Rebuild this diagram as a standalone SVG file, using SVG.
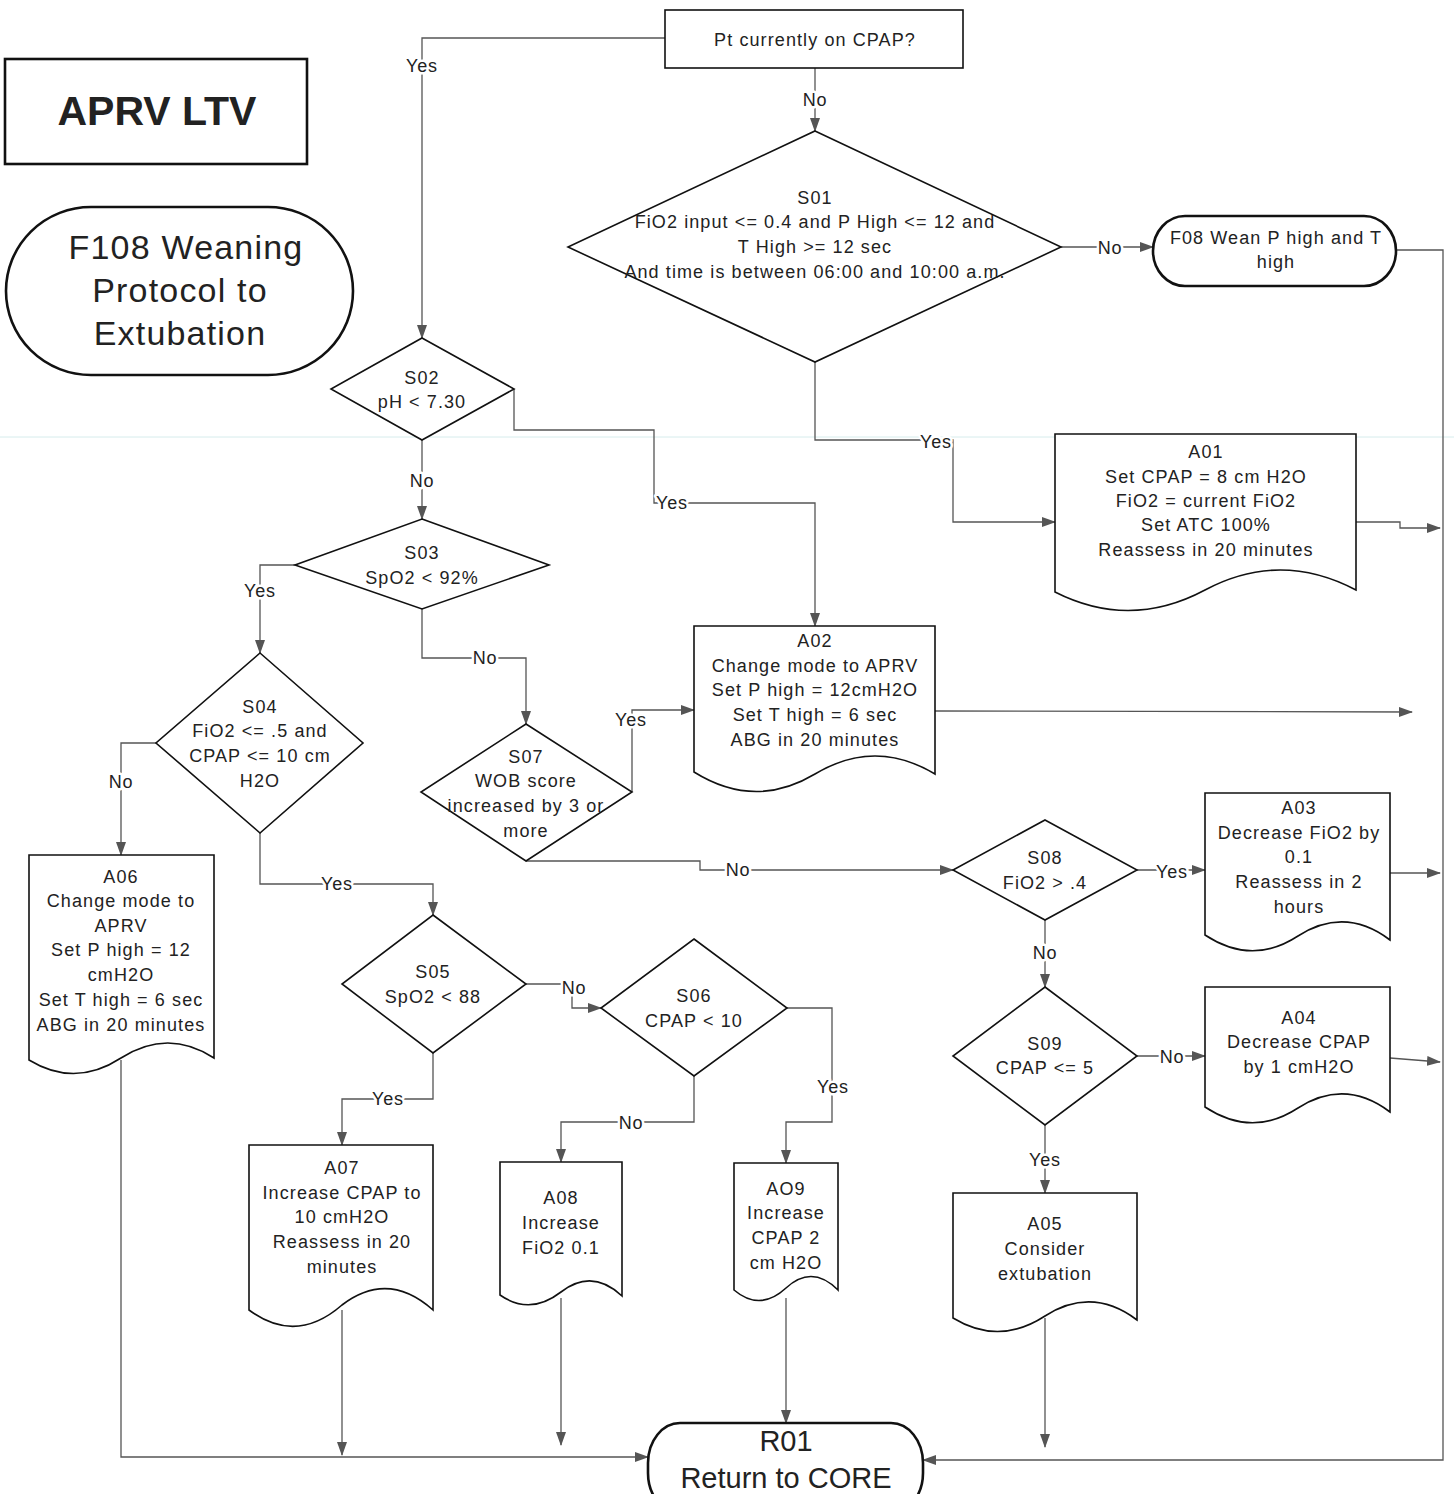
<svg xmlns="http://www.w3.org/2000/svg" width="1454" height="1494" viewBox="0 0 1454 1494">
<style>
.shape{fill:#fff;stroke:#111;stroke-width:1.6}
.thick{fill:#fff;stroke:#111;stroke-width:2.6}
.t{font-family:"Liberation Sans",Arial,sans-serif;font-size:18px;fill:#222;text-anchor:middle;letter-spacing:1.1px}
.big{font-family:"Liberation Sans",Arial,sans-serif;font-size:34px;fill:#222;text-anchor:middle;letter-spacing:1.2px}
.title{font-family:"Liberation Sans",Arial,sans-serif;font-size:41px;font-weight:bold;fill:#222;text-anchor:middle}
.r01{font-family:"Liberation Sans Narrow","Liberation Sans",Arial,sans-serif;font-size:29px;fill:#222;text-anchor:middle}
.c{fill:none;stroke:#555;stroke-width:1.3}
.lbl{font-family:"Liberation Sans",Arial,sans-serif;font-size:18px;fill:#222;text-anchor:middle;letter-spacing:0.8px;stroke:#fff;stroke-width:5px;paint-order:stroke;stroke-linejoin:round}
</style>
<defs>
<marker id="arr" markerWidth="14" markerHeight="10" refX="13" refY="5" orient="auto" markerUnits="userSpaceOnUse">
<path d="M0,0 L14,5 L0,10 z" fill="#555"/>
</marker>
</defs>
<rect width="1454" height="1494" fill="#fff"/>
<line x1="0" y1="437" x2="1454" y2="437" stroke="#d6ecec" stroke-width="1"/>

<g id="connectors">
<polyline class="c" points="665,38 422,38 422,338" marker-end="url(#arr)"/>
<polyline class="c" points="815,68 815,131" marker-end="url(#arr)"/>
<polyline class="c" points="1061,247 1153,247" marker-end="url(#arr)"/>
<polyline class="c" points="1396,250 1443,250 1443,1460 923,1460" marker-end="url(#arr)"/>
<polyline class="c" points="815,362 815,440 953,440 953,522 1055,522" marker-end="url(#arr)"/>
<polyline class="c" points="1356,522 1400,522 1400,528 1440,528" marker-end="url(#arr)"/>
<polyline class="c" points="514,389 514,430 654,430 654,503 815,503 815,626" marker-end="url(#arr)"/>
<polyline class="c" points="422,440 422,519" marker-end="url(#arr)"/>
<polyline class="c" points="295,565 260,565 260,653" marker-end="url(#arr)"/>
<polyline class="c" points="422,609 422,658 526,658 526,724" marker-end="url(#arr)"/>
<polyline class="c" points="156,743 121,743 121,855" marker-end="url(#arr)"/>
<polyline class="c" points="260,833 260,884 433,884 433,915" marker-end="url(#arr)"/>
<polyline class="c" points="632,792 632,710 694,710" marker-end="url(#arr)"/>
<polyline class="c" points="935,711 1412,712" marker-end="url(#arr)"/>
<polyline class="c" points="526,861 700,861 700,870 953,870" marker-end="url(#arr)"/>
<polyline class="c" points="1137,870 1205,870" marker-end="url(#arr)"/>
<polyline class="c" points="1390,873 1440,873" marker-end="url(#arr)"/>
<polyline class="c" points="1045,920 1045,987" marker-end="url(#arr)"/>
<polyline class="c" points="1137,1056 1205,1056" marker-end="url(#arr)"/>
<polyline class="c" points="1390,1058 1440,1062" marker-end="url(#arr)"/>
<polyline class="c" points="1045,1125 1045,1193" marker-end="url(#arr)"/>
<polyline class="c" points="1045,1318 1045,1447" marker-end="url(#arr)"/>
<polyline class="c" points="526,984 572,984 572,1008 601,1008" marker-end="url(#arr)"/>
<polyline class="c" points="787,1008 832,1008 832,1122 786,1122 786,1163" marker-end="url(#arr)"/>
<polyline class="c" points="694,1076 694,1122 561,1122 561,1162" marker-end="url(#arr)"/>
<polyline class="c" points="433,1053 433,1099 342,1099 342,1145" marker-end="url(#arr)"/>
<polyline class="c" points="121,1060 121,1457 648,1457" marker-end="url(#arr)"/>
<polyline class="c" points="342,1310 342,1455" marker-end="url(#arr)"/>
<polyline class="c" points="561,1298 561,1445" marker-end="url(#arr)"/>
<polyline class="c" points="786,1298 786,1423" marker-end="url(#arr)"/>
<text class="lbl" x="422" y="72">Yes</text>
<text class="lbl" x="815" y="106">No</text>
<text class="lbl" x="1110" y="254">No</text>
<text class="lbl" x="936" y="448">Yes</text>
<text class="lbl" x="672" y="509">Yes</text>
<text class="lbl" x="422" y="487">No</text>
<text class="lbl" x="260" y="597">Yes</text>
<text class="lbl" x="485" y="664">No</text>
<text class="lbl" x="121" y="788">No</text>
<text class="lbl" x="337" y="890">Yes</text>
<text class="lbl" x="631" y="726">Yes</text>
<text class="lbl" x="738" y="876">No</text>
<text class="lbl" x="1172" y="878">Yes</text>
<text class="lbl" x="1045" y="959">No</text>
<text class="lbl" x="1172" y="1063">No</text>
<text class="lbl" x="1045" y="1166">Yes</text>
<text class="lbl" x="574" y="994">No</text>
<text class="lbl" x="833" y="1093">Yes</text>
<text class="lbl" x="631" y="1129">No</text>
<text class="lbl" x="388" y="1105">Yes</text>
</g>

<g id="title">
<rect class="thick" x="5" y="59" width="302" height="105"/>
<text class="title" x="157" y="125">APRV LTV</text>
</g>
<g id="F108">
<rect class="thick" x="6" y="207" width="347" height="168" rx="85" ry="84"/>
<text class="big" x="186" y="259">F108 Weaning</text>
<text class="big" x="180" y="302">Protocol to</text>
<text class="big" x="180" y="345">Extubation</text>
</g>
<g id="Q0">
<rect class="shape" x="665" y="10" width="298" height="58"/>
<text class="t" x="815" y="46">Pt currently on CPAP?</text>
</g>
<g id="S01">
<polygon class="shape" points="815,131 1061,247 815,362 568,247"/>
<text class="t" x="815" y="204">S01</text>
<text class="t" x="815" y="228">FiO2 input &lt;= 0.4 and P High &lt;= 12 and</text>
<text class="t" x="815" y="253">T High &gt;= 12 sec</text>
<text class="t" x="815" y="278">And time is between 06:00 and 10:00 a.m.</text>
</g>
<g id="F08">
<rect class="thick" x="1153" y="216" width="243" height="70" rx="32" ry="35"/>
<text class="t" x="1276" y="244">F08 Wean P high and T</text>
<text class="t" x="1276" y="268">high</text>
</g>
<g id="A01">
<path class="shape" d="M1055,434 H1356 V590 Q1280,550 1205,590 Q1130,630 1055,592 Z"/>
<text class="t" x="1206" y="458">A01</text>
<text class="t" x="1206" y="483">Set CPAP = 8 cm H2O</text>
<text class="t" x="1206" y="507">FiO2 = current FiO2</text>
<text class="t" x="1206" y="531">Set ATC 100%</text>
<text class="t" x="1206" y="556">Reassess in 20 minutes</text>
</g>
<g id="S02">
<polygon class="shape" points="422,338 514,389 422,440 331,389"/>
<text class="t" x="422" y="384">S02</text>
<text class="t" x="422" y="408">pH &lt; 7.30</text>
</g>
<g id="S03">
<polygon class="shape" points="422,519 549,565 422,609 295,565"/>
<text class="t" x="422" y="559">S03</text>
<text class="t" x="422" y="584">SpO2 &lt; 92%</text>
</g>
<g id="A02">
<path class="shape" d="M694,626 H935 V774 Q875,738 815,774 Q755,810 694,772 Z"/>
<text class="t" x="815" y="647">A02</text>
<text class="t" x="815" y="672">Change mode to APRV</text>
<text class="t" x="815" y="696">Set P high = 12cmH2O</text>
<text class="t" x="815" y="721">Set T high = 6 sec</text>
<text class="t" x="815" y="746">ABG in 20 minutes</text>
</g>
<g id="S04">
<polygon class="shape" points="260,653 363,743 260,833 156,743"/>
<text class="t" x="260" y="713">S04</text>
<text class="t" x="260" y="737">FiO2 &lt;= .5 and</text>
<text class="t" x="260" y="762">CPAP &lt;= 10 cm</text>
<text class="t" x="260" y="787">H2O</text>
</g>
<g id="S07">
<polygon class="shape" points="526,724 632,792 526,861 421,792"/>
<text class="t" x="526" y="763">S07</text>
<text class="t" x="526" y="787">WOB score</text>
<text class="t" x="526" y="812">increased by 3 or</text>
<text class="t" x="526" y="837">more</text>
</g>
<g id="A06">
<path class="shape" d="M29,855 H214 V1058 Q168,1028 121,1058 Q75,1088 29,1060 Z"/>
<text class="t" x="121" y="883">A06</text>
<text class="t" x="121" y="907">Change mode to</text>
<text class="t" x="121" y="932">APRV</text>
<text class="t" x="121" y="956">Set P high = 12</text>
<text class="t" x="121" y="981">cmH2O</text>
<text class="t" x="121" y="1006">Set T high = 6 sec</text>
<text class="t" x="121" y="1031">ABG in 20 minutes</text>
</g>
<g id="S08">
<polygon class="shape" points="1045,820 1137,870 1045,920 953,870"/>
<text class="t" x="1045" y="864">S08</text>
<text class="t" x="1045" y="889">FiO2 &gt; .4</text>
</g>
<g id="A03">
<path class="shape" d="M1205,793 H1390 V940 Q1345,906 1298,936 Q1252,966 1205,935 Z"/>
<text class="t" x="1299" y="814">A03</text>
<text class="t" x="1299" y="839">Decrease FiO2 by</text>
<text class="t" x="1299" y="863">0.1</text>
<text class="t" x="1299" y="888">Reassess in 2</text>
<text class="t" x="1299" y="913">hours</text>
</g>
<g id="S09">
<polygon class="shape" points="1045,987 1137,1056 1045,1125 953,1056"/>
<text class="t" x="1045" y="1050">S09</text>
<text class="t" x="1045" y="1074">CPAP &lt;= 5</text>
</g>
<g id="A04">
<path class="shape" d="M1205,987 H1390 V1112 Q1345,1078 1298,1108 Q1252,1138 1205,1107 Z"/>
<text class="t" x="1299" y="1024">A04</text>
<text class="t" x="1299" y="1048">Decrease CPAP</text>
<text class="t" x="1299" y="1073">by 1 cmH2O</text>
</g>
<g id="A05">
<path class="shape" d="M953,1193 H1137 V1320 Q1092,1286 1045,1316 Q999,1346 953,1318 Z"/>
<text class="t" x="1045" y="1230">A05</text>
<text class="t" x="1045" y="1255">Consider</text>
<text class="t" x="1045" y="1280">extubation</text>
</g>
<g id="S05">
<polygon class="shape" points="433,915 526,984 433,1053 342,984"/>
<text class="t" x="433" y="978">S05</text>
<text class="t" x="433" y="1003">SpO2 &lt; 88</text>
</g>
<g id="S06">
<polygon class="shape" points="694,939 787,1008 694,1076 601,1008"/>
<text class="t" x="694" y="1002">S06</text>
<text class="t" x="694" y="1027">CPAP &lt; 10</text>
</g>
<g id="A07">
<path class="shape" d="M249,1145 H433 V1310 Q388,1270 342,1305 Q296,1345 249,1310 Z"/>
<text class="t" x="342" y="1174">A07</text>
<text class="t" x="342" y="1199">Increase CPAP to</text>
<text class="t" x="342" y="1223">10 cmH2O</text>
<text class="t" x="342" y="1248">Reassess in 20</text>
<text class="t" x="342" y="1273">minutes</text>
</g>
<g id="A08">
<path class="shape" d="M500,1162 H622 V1296 Q592,1268 561,1292 Q530,1316 500,1295 Z"/>
<text class="t" x="561" y="1204">A08</text>
<text class="t" x="561" y="1229">Increase</text>
<text class="t" x="561" y="1254">FiO2 0.1</text>
</g>
<g id="A09">
<path class="shape" d="M734,1163 H838 V1290 Q812,1264 786,1288 Q760,1312 734,1290 Z"/>
<text class="t" x="786" y="1195">AO9</text>
<text class="t" x="786" y="1219">Increase</text>
<text class="t" x="786" y="1244">CPAP 2</text>
<text class="t" x="786" y="1269">cm H2O</text>
</g>
<g id="R01">
<rect class="thick" x="648" y="1423" width="275" height="90" rx="32" ry="40"/>
<text class="r01" x="786" y="1451">R01</text>
<text class="r01" x="786" y="1488">Return to CORE</text>
</g>
</svg>
